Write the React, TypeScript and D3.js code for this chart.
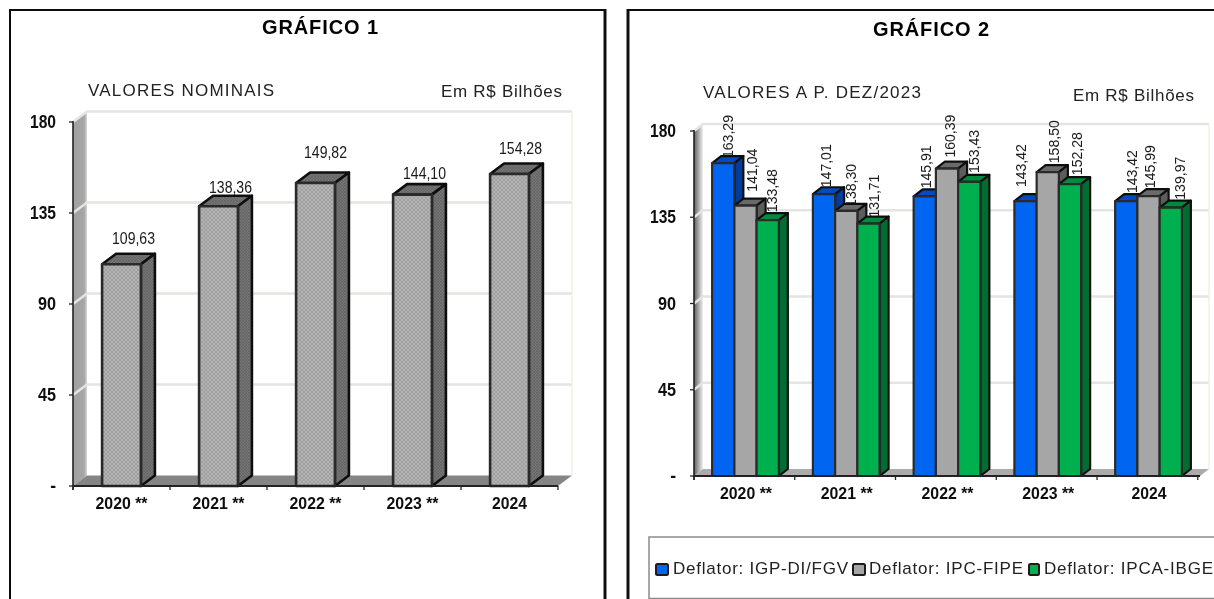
import React from "react";
import * as d3 from "d3";

const years = ["2020 **", "2021 **", "2022 **", "2023 **", "2024"];
const yTicks = [180, 135, 90, 45, 0];
const nominal = [109.63, 138.36, 149.82, 144.1, 154.28];
const igpDi = [163.29, 147.01, 145.91, 143.42, 143.42];
const ipcFipe = [141.04, 138.3, 160.39, 158.5, 145.99];
const ipcaIbge = [133.48, 131.71, 153.43, 152.28, 139.97];
const seriesNames = ["Deflator: IGP-DI/FGV", "Deflator: IPC-FIPE", "Deflator: IPCA-IBGE"];

// manual label placement seen in the source chart (px from default anchor)
const nominalLift = [26, 19, 31, 22, 26];
const nominalShift = [12, 12, 10, 12, 11];
const liftBySeries = [
  [5, 7, 8, 14, 8],
  [14, 4, 11, 9, 8],
  [8, 6, 9, 9, 8],
];
const shiftBySeries = [
  [4, 1, 1, -5, 5],
  [6, 4, 2, 6, 1],
  [4, 5, 4, 7, 9],
];

const pal = [
  { front: "#0066f2", side: "#003a9e", top: "#004cc4" },
  { front: "#a6a6a6", side: "#5c5c5c", top: "#6b6b6b" },
  { front: "#00b050", side: "#006e32", top: "#008a3e" },
];
const FONT = "'Liberation Sans', Arial, sans-serif";
const fmt = (v: number) => v.toFixed(2).replace(".", ",");
const tickLabel = (v: number) => (v === 0 ? "-" : String(v));

function Bar3D({ x, w, y, y0, dx, dy, front, side, top, sw }: any) {
  return (
    <g stroke="#111" strokeWidth={sw} strokeLinejoin="round">
      <polygon points={`${x},${y} ${x + dx},${y - dy} ${x + w + dx},${y - dy} ${x + w},${y}`} fill={top} />
      <polygon points={`${x + w},${y} ${x + w + dx},${y - dy} ${x + w + dx},${y0 - dy} ${x + w},${y0}`} fill={side} />
      <rect x={x} y={y} width={w} height={y0 - y} fill={front} stroke="#2a2a2a" />
    </g>
  );
}

function Frame({ x0, x1, y180, y0, dx, dy, grad, floor, gridW, y }: any) {
  return (
    <g>
      <polygon points={`${x0},${y180} ${x0 + dx},${y180 - dy} ${x0 + dx},${y0 - dy} ${x0},${y0}`} fill={grad} />
      {yTicks.filter((t) => t > 0).map((t) => (
        <polyline key={t} points={`${x0},${y(t)} ${x0 + dx},${y(t) - dy} ${x1 + dx},${y(t) - dy}`} fill="none" stroke="#e4e4e2" strokeWidth={gridW} />
      ))}
      <line x1={x1 + dx} x2={x1 + dx} y1={y180 - dy} y2={y0 - dy} stroke="#f2efe4" strokeWidth={1.5} />
      <polygon points={`${x0},${y0} ${x0 + dx},${y0 - dy} ${x1 + dx},${y0 - dy} ${x1},${y0}`} fill={floor} />
    </g>
  );
}

function Axes({ x0, x1, y0, y, ticksX, labels, labelX, labelY, valX }: any) {
  return (
    <g>
      <line x1={x0} x2={x0} y1={y(180) - 1} y2={y0 + 4} stroke="#222" strokeWidth={1.6} />
      <line x1={x0} x2={x1} y1={y0} y2={y0} stroke="#222" strokeWidth={1.8} />
      {yTicks.map((t) => (
        <g key={t}>
          <line x1={x0 - 4} x2={x0} y1={y(t)} y2={y(t)} stroke="#222" strokeWidth={1.3} />
          <text x={valX} y={y(t) + 6} textAnchor="end" fontFamily={FONT} fontWeight={700} fontSize={17.5} fill="#111"
            textLength={t === 0 ? undefined : t === 180 || t === 135 ? 26 : 18} lengthAdjust="spacingAndGlyphs">{tickLabel(t)}</text>
        </g>
      ))}
      {ticksX.map((t: number) => (
        <line key={t} x1={t} x2={t} y1={y0} y2={y0 + 4} stroke="#222" strokeWidth={1.3} />
      ))}
      {labels.map((l: string) => (
        <text key={l} x={labelX(l)} y={labelY} textAnchor="middle" fontFamily={FONT} fontWeight={700} fontSize={17} fill="#111"
          textLength={l.length > 4 ? 52 : 35} lengthAdjust="spacingAndGlyphs">{l}</text>
      ))}
    </g>
  );
}

function Txt({ x, y, w, size = 17, bold = false, children }: any) {
  return (
    <text x={x} y={y} fontFamily={FONT} fontSize={size} fontWeight={bold ? 700 : 400} fill={bold ? "#000" : "#222"}
      textLength={w} lengthAdjust="spacing">{children}</text>
  );
}

export default function App() {
  // chart 1
  const c1 = { x0: 73, x1: 558, y0: 486, y180: 122, dx: 14, dy: 10.5 };
  const y1 = d3.scaleLinear().domain([0, 180]).range([c1.y0, c1.y180]);
  const x1 = d3.scaleBand<string>().domain(years).range([c1.x0, c1.x1]).paddingInner(0.6).paddingOuter(0.3);
  const step1 = x1.step();
  const ticks1 = d3.range(years.length + 1).map((i) => c1.x0 + i * step1);

  // chart 2
  const c2 = { x0: 694, x1: 1200, y0: 476, y180: 131, dx: 9, dy: 7 };
  const y2 = d3.scaleLinear().domain([0, 180]).range([c2.y0, c2.y180]);
  const x2 = d3.scaleBand<string>().domain(years).range([c2.x0, c2.x1]).paddingInner(0.338).paddingOuter(0.18);
  const series = [igpDi, ipcFipe, ipcaIbge];
  const inner = d3.scaleBand<number>().domain([0, 1, 2]).range([0, x2.bandwidth()]);
  const step2 = x2.step();
  const ticks2 = d3.range(years.length + 1).map((i) => c2.x0 + i * step2);

  const legendSq = [656, 853, 1029];
  const legendTx = [{ x: 673, w: 175 }, { x: 869, w: 154 }, { x: 1044, w: 169 }];

  return (
    <svg width={1214} height={599} viewBox="0 0 1214 599" style={{ position: "absolute", left: 0, top: 0, background: "#fff" }}>
      <defs>
        <pattern id="hatch" width="4" height="4" patternUnits="userSpaceOnUse">
          <rect width="4" height="4" fill="#b4b4b4" />
          <path d="M0 0 L2 2 L0 4 M4 0 L2 2 L4 4" stroke="#999" strokeWidth="0.8" fill="none" />
        </pattern>
        <pattern id="hatchDark" width="3" height="3" patternUnits="userSpaceOnUse">
          <rect width="3" height="3" fill="#757575" />
          <path d="M0 0 L3 3 M3 0 L0 3" stroke="#5f5f5f" strokeWidth="0.6" />
        </pattern>
        <linearGradient id="wall2" x1="0" x2="1" y1="0" y2="0">
          <stop offset="0" stopColor="#5e5e5e" />
          <stop offset="1" stopColor="#f2f2f2" />
        </linearGradient>
        <linearGradient id="wall1" x1="0" x2="1" y1="0" y2="0">
          <stop offset="0" stopColor="#a0a0a0" />
          <stop offset="0.8" stopColor="#a6a6a6" />
          <stop offset="1" stopColor="#d8d8d8" />
        </linearGradient>
        <filter id="soft" x="0" y="0" width="100%" height="100%">
          <feGaussianBlur stdDeviation="0.5" />
        </filter>
      </defs>
      <g filter="url(#soft)">
        {/* panel borders */}
        <path d="M9.5 610 V9.5 H605 V610" fill="none" stroke="#111" strokeWidth={3} />
        <path d="M628 610 V9.5 H1220" fill="none" stroke="#111" strokeWidth={3} />

        {/* chart 1 */}
        <Txt x={262} y={34} w={116} size={20} bold>GRÁFICO 1</Txt>
        <Txt x={88} y={96} w={186}>VALORES NOMINAIS</Txt>
        <Txt x={441} y={97} w={121}>Em  R$ Bilhões</Txt>
        <Frame {...c1} y={y1} grad="url(#wall1)" floor="#858585" gridW={2.5} />
        {years.map((yr, i) => (
          <Bar3D key={yr} x={x1(yr)} w={x1.bandwidth()} y={y1(nominal[i])} y0={c1.y0} dx={c1.dx} dy={c1.dy}
            front="url(#hatch)" side="url(#hatchDark)" top="url(#hatchDark)" sw={2.6} />
        ))}
        <Axes {...c1} y={y1} ticksX={ticks1} labels={years} valX={56}
          labelX={(l: string) => x1(l)! + x1.bandwidth() / 2} labelY={509} />
        {years.map((yr, i) => (
          <text key={yr} x={x1(yr)! + x1.bandwidth() / 2 + nominalShift[i]} y={y1(nominal[i]) - nominalLift[i] + 6}
            textAnchor="middle" fontFamily={FONT} fontSize={17} fill="#1a1a1a" textLength={43} lengthAdjust="spacingAndGlyphs">
            {fmt(nominal[i])}
          </text>
        ))}

        {/* chart 2 */}
        <Txt x={873} y={36} w={116} size={20} bold>GRÁFICO 2</Txt>
        <Txt x={703} y={98} w={218}>VALORES A P. DEZ/2023</Txt>
        <Txt x={1073} y={101} w={121}>Em  R$ Bilhões</Txt>
        <Frame {...c2} y={y2} grad="url(#wall2)" floor="#ababab" gridW={2.5} />
        {series.map((vals, s) =>
          years.map((yr, i) => (
            <text key={yr + s}
              transform={`translate(${x2(yr)! + inner(s)! + inner.bandwidth() / 2 + shiftBySeries[s][i] + 5.5},${y2(vals[i]) - liftBySeries[s][i]}) rotate(-90)`}
              fontFamily={FONT} fontSize={15} fill="#1a1a1a" textLength={43} lengthAdjust="spacingAndGlyphs">
              {fmt(vals[i])}
            </text>
          ))
        )}
        {years.map((yr, i) =>
          series.map((vals, s) => (
            <Bar3D key={yr + s} x={x2(yr)! + inner(s)!} w={inner.bandwidth()} y={y2(vals[i])} y0={c2.y0} dx={c2.dx} dy={c2.dy}
              front={pal[s].front} side={pal[s].side} top={pal[s].top} sw={2.2} />
          ))
        )}
        <Axes {...c2} y={y2} ticksX={ticks2} labels={years} valX={676}
          labelX={(l: string) => x2(l)! + x2.bandwidth() / 2 + 0.5} labelY={499} />

        {/* legend */}
        <rect x={649} y={537} width={580} height={61.5} fill="#fff" stroke="#8a8a8a" strokeWidth={1.5} />
        {seriesNames.map((n, s) => (
          <g key={n}>
            <rect x={legendSq[s]} y={564} width={s === 2 ? 10 : 12} height={11} rx={1.5} fill={pal[s].front} stroke="#1a1a1a" strokeWidth={2} />
            <Txt x={legendTx[s].x} y={574} w={legendTx[s].w}>{n}</Txt>
          </g>
        ))}
      </g>
    </svg>
  );
}
